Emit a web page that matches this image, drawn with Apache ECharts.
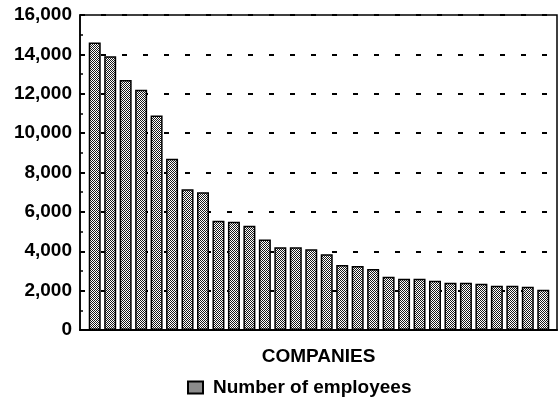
<!DOCTYPE html>
<html>
<head>
<meta charset="utf-8">
<script src="https://cdn.jsdelivr.net/npm/echarts@6/dist/echarts.min.js"></script>
<style>
  html, body { margin: 0; padding: 0; background: #fff; }
  #chart { width: 559px; height: 404px; }
</style>
</head>
<body>
<div id="chart"></div>
<script>
// companies are unnamed in the original, only their order matters
const categories = [
  'C1', 'C2', 'C3', 'C4', 'C5', 'C6', 'C7', 'C8', 'C9', 'C10',
  'C11', 'C12', 'C13', 'C14', 'C15', 'C16', 'C17', 'C18', 'C19', 'C20',
  'C21', 'C22', 'C23', 'C24', 'C25', 'C26', 'C27', 'C28', 'C29', 'C30',
];
const employees = [
  14600, 13900, 12700, 12200, 10900, 8700, 7150, 7000, 5550, 5500,
  5300, 4600, 4200, 4200, 4100, 3850, 3300, 3250, 3100, 2700,
  2600, 2600, 2500, 2400, 2400, 2350, 2250, 2250, 2200, 2050,
];
const yTicks = [0, 2000, 4000, 6000, 8000, 10000, 12000, 14000, 16000];
const seriesName = 'Number of employees';
const axisName = 'COMPANIES';

// stipple fill like the printed chart
function stipple() {
  const c = document.createElement('canvas');
  c.width = 4;
  c.height = 4;
  const ctx = c.getContext('2d');
  ctx.fillStyle = '#fff';
  ctx.fillRect(0, 0, 4, 4);
  ctx.fillStyle = '#1a1a1a';
  for (let y = 0; y < 4; y++) {
    for (let x = 0; x < 4; x++) {
      if ((x + y) % 2 === 0) ctx.fillRect(x, y, 1, 1);
    }
  }
  return { image: c, repeat: 'repeat' };
}

const font = 'Liberation Sans, Arial, sans-serif';
const comma = (v) => String(v).replace(/\B(?=(\d{3})+(?!\d))/g, ',');
const yMin = yTicks[0];
const yMax = yTicks[yTicks.length - 1];
const yStep = yTicks[1] - yTicks[0];

const chart = echarts.init(document.getElementById('chart'), null, { renderer: 'canvas' });
chart.setOption({
  animation: false,
  backgroundColor: '#fff',
  grid: [
    { // frame
      left: 80, right: 2, top: 15, bottom: 74,
      show: true, borderColor: '#000', borderWidth: 1.5,
    },
    { // bars
      left: 87, right: 8, top: 15, bottom: 74,
    },
  ],
  legend: {
    data: [{ name: seriesName, icon: 'rect' }],
    left: 182,
    top: 373,
    itemWidth: 15,
    itemHeight: 12,
    textStyle: {
      fontFamily: font, fontWeight: 'bold', fontSize: 19, color: '#000',
      padding: [0, 0, 0, 5],
    },
  },
  xAxis: [
    {
      gridIndex: 0,
      type: 'category',
      data: categories,
      name: axisName,
      nameLocation: 'middle',
      nameGap: 17,
      nameTextStyle: { fontFamily: font, fontWeight: 'bold', fontSize: 19, color: '#000' },
      axisLine: { lineStyle: { color: '#000', width: 2 } },
      axisTick: { show: false },
      axisLabel: { show: false },
    },
    {
      gridIndex: 1,
      type: 'category',
      data: categories,
      show: false,
    },
  ],
  yAxis: [
    {
      gridIndex: 0,
      type: 'value',
      min: yMin,
      max: yMax,
      interval: yStep,
      axisLine: { show: true, lineStyle: { color: '#000', width: 1.5 } },
      axisTick: { show: true, inside: true, length: 5, lineStyle: { color: '#000', width: 1.5 } },
      minorTick: { show: true, splitNumber: 2, length: 3, lineStyle: { color: '#000', width: 1.5 } },
      axisLabel: {
        margin: 8,
        fontFamily: font, fontWeight: 'bold', fontSize: 19, color: '#000',
        formatter: comma,
      },
      splitLine: { lineStyle: { color: '#000', width: 2, type: [5, 16] } },
    },
    {
      gridIndex: 1,
      type: 'value',
      min: yMin,
      max: yMax,
      interval: yStep,
      show: false,
      splitLine: { show: false },
    },
  ],
  series: [{
    name: seriesName,
    type: 'bar',
    xAxisIndex: 1,
    yAxisIndex: 1,
    barWidth: 12,
    z: 5,
    itemStyle: { color: stipple(), borderColor: '#000', borderWidth: 1.5 },
    data: employees,
  }],
});
</script>
</body>
</html>
